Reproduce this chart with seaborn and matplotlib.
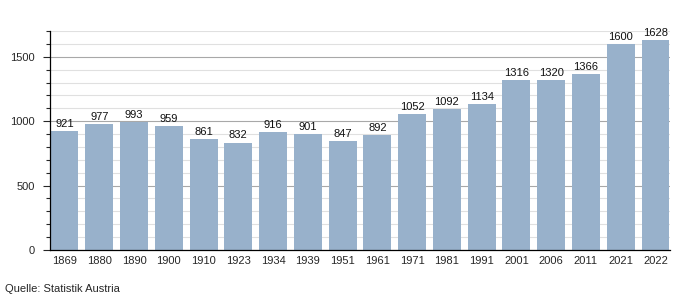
import matplotlib
matplotlib.use("Agg")
import matplotlib.pyplot as plt
import seaborn as sns
import pandas as pd
from matplotlib.ticker import MultipleLocator

years = ["1869", "1880", "1890", "1900", "1910", "1923", "1934", "1939", "1951",
         "1961", "1971", "1981", "1991", "2001", "2006", "2011", "2021", "2022"]
population = [921, 977, 993, 959, 861, 832, 916, 901, 847, 892, 1052, 1092,
              1134, 1316, 1320, 1366, 1600, 1628]
source = "Quelle: Statistik Austria"

sns.set_style("white")
plt.rcParams['font.family'] = ['Liberation Sans', 'DejaVu Sans']

df = pd.DataFrame({"Jahr": years, "Einwohner": population})

fig = plt.figure(figsize=(7, 3), dpi=100)
ax = fig.add_axes([50/700, 50/300, 620/700, 219/300])

ax.yaxis.set_major_locator(MultipleLocator(500))
ax.yaxis.set_minor_locator(MultipleLocator(100))
ax.grid(which="minor", axis="y", color="#e0e0e0", linewidth=0.8, linestyle="-", zorder=0)
ax.grid(which="major", axis="y", color="#a8a8a8", linewidth=0.8, linestyle="-", zorder=0)
ax.set_axisbelow(True)

sns.barplot(data=df, x="Jahr", y="Einwohner", color="#98b1cb", saturation=1,
            width=0.8, ax=ax, zorder=2, edgecolor="none", linewidth=0)

for i, v in enumerate(population):
    ax.text(i, v + 18, str(v), ha="center", va="bottom", fontsize=8, color="#111111")

ax.set_xlim(-0.42, 17.42)
ax.set_ylim(0, 1700)
ax.set_xlabel("")
ax.set_ylabel("")
for s in ["top", "right"]:
    ax.spines[s].set_visible(False)
ax.spines["left"].set_color("black")
ax.spines["bottom"].set_color("black")
ax.spines["left"].set_linewidth(0.9)
ax.spines["bottom"].set_linewidth(0.9)
ax.tick_params(axis="y", which="major", length=5, width=0.8, labelsize=8, left=True, pad=6)
ax.tick_params(axis="y", which="minor", length=3, width=0.8, left=True)
ax.tick_params(axis="x", length=0, labelsize=8, pad=4)

fig.text(5/700, 1 - 289/300, source, fontsize=8, ha="left", va="center")

fig.savefig("out.png", dpi=100)
